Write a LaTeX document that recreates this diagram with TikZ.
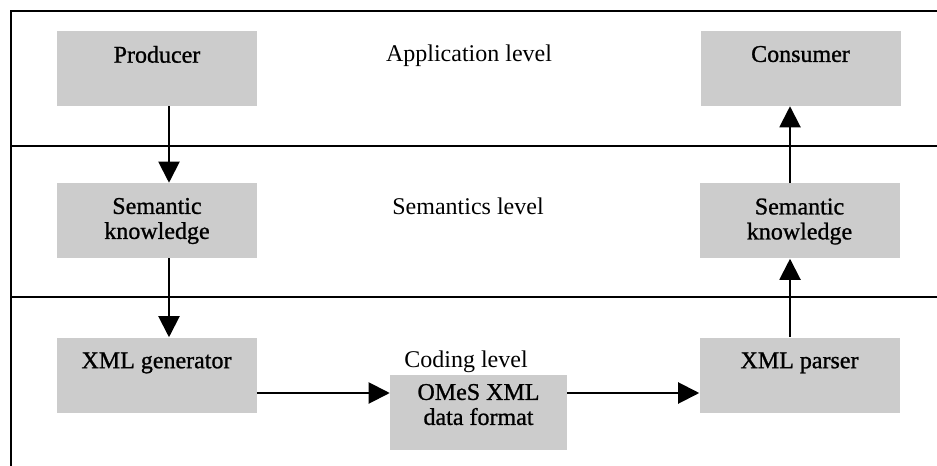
\documentclass[tikz,border=0pt]{standalone}
\usepackage{fontspec}
\setmainfont{Liberation Serif}
\newfontface\heavyface{Liberation Serif}[FakeBold=1.0]
\usetikzlibrary{arrows.meta}
\definecolor{boxgrey}{RGB}{204,204,204}
\begin{document}
\begin{tikzpicture}[x=0.75pt,y=-0.75pt,
  every node/.style={font=\fontsize{18}{18.75}\selectfont},
  box/.style={fill=boxgrey, minimum width=150pt, minimum height=56.25pt, inner sep=0pt},
  lab/.style={anchor=north, inner sep=0pt, align=center, yshift=-11.25pt,
              font=\fontsize{18}{18.75}\heavyface},
  rule/.style={line width=1.5pt},
  flow/.style={line width=1.5pt, -{Triangle[length=15.75pt,width=15.75pt]}},
  level/.style={anchor=base, inner sep=0pt}]
\useasboundingbox (0,0) rectangle (937,466);

% frame and level separators
\draw[rule] (937,11) -- (11,11) -- (11,466);
\draw[rule] (11,146) -- (937,146);
\draw[rule] (11,297) -- (937,297);

% level names
\node[level] (applev) at (469,62) {Application level};
\node[level] (semlev) at (468,215) {Semantics level};
\node[level] (codlev) at (466,367) {Coding level};

% processing blocks
\node[box, label={[lab, name=prodtxt]north:Producer}] (prod) at (157,68.5) {};
\node[box, label={[lab, name=constxt]north:Consumer}] (cons) at (800.5,68.5) {};
\node[box, label={[lab, name=semLtxt]north:Semantic\\knowledge}] (semL) at (157,220.5) {};
\node[box, label={[lab, name=semRtxt]north:Semantic\\knowledge}] (semR) at (799.5,221) {};
\node[box, label={[lab, name=gentxt]north:XML generator}] (gen) at (156.5,375) {};
\node[box, label={[lab, name=partxt]north:XML parser}] (parser) at (799.5,375) {};
\node[box, minimum width=132.75pt,
      label={[lab, yshift=4.5pt, name=omestxt]north:OMeS XML\\data format}] (omes) at (478.5,412.5) {};

% connector lanes
\coordinate (laneL) at (169,0);
\coordinate (laneR) at (790,0);
\coordinate (laneH) at (0,393);

% data flow
\draw[flow] (prod.south -| laneL) -- (semL.north -| laneL);
\draw[flow] (semL.south -| laneL) -- (gen.north -| laneL);
\draw[flow] (gen.east |- laneH) -- (omes.west |- laneH);
\draw[flow] (omes.east |- laneH) -- (parser.west |- laneH);
\draw[flow] (parser.north -| laneR) -- (semR.south -| laneR);
\draw[flow] (semR.north -| laneR) -- (cons.south -| laneR);
\end{tikzpicture}
\end{document}
